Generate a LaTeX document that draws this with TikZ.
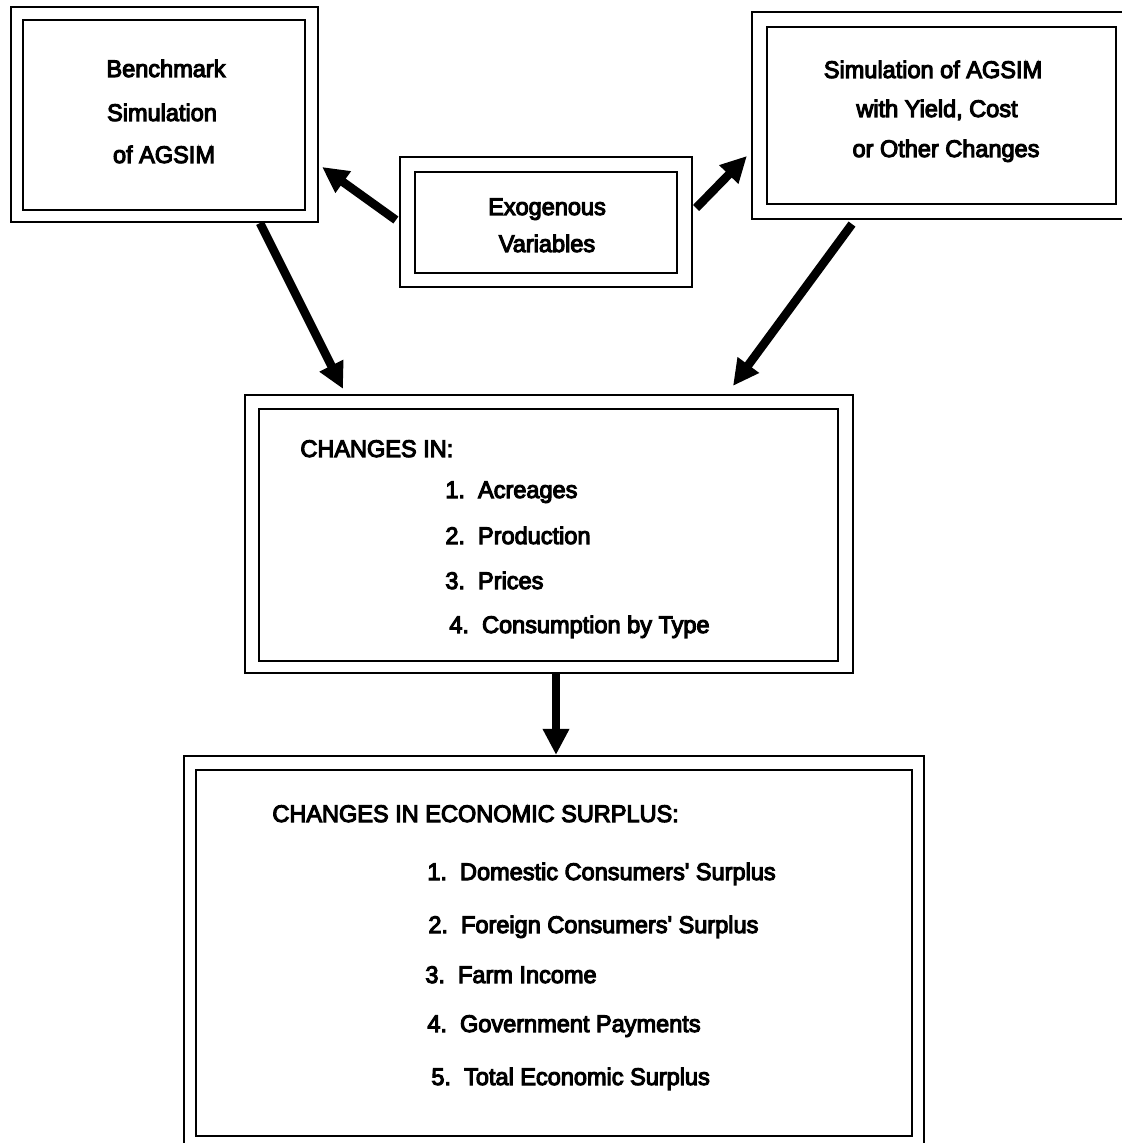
\documentclass[tikz,border=0pt]{standalone}
\usepackage{fontspec}
\newfontfamily\dfont{Liberation Sans}[FakeBold=4.5,FakeStretch=0.98]
\usetikzlibrary{arrows.meta}
\begin{document}
\begin{tikzpicture}[x=0.5pt,y=-0.5pt,
  box/.style={draw, line width=1.1pt, inner sep=0pt, anchor=center},
  arr/.style={line width=4.3pt, -{Triangle[length=13pt,width=12.5pt]}},
  txt/.style={font=\dfont\fontsize{12}{14}\selectfont, inner sep=0pt},
]
\useasboundingbox (0,0) rectangle (1121,1143);
\fill[white] (0,0) rectangle (1121,1143);
% boxes
\node[box, minimum width=153.5pt, minimum height=107.5pt] (A) at (164.5,114.5) {};
\node[box, minimum width=141pt, minimum height=95pt] (Ai) at (164,115) {};
\node[box, minimum width=146pt, minimum height=65pt] (B) at (546,222) {};
\node[box, minimum width=131pt, minimum height=50.5pt] (Bi) at (546,222.5) {};
\node[box, minimum width=186.5pt, minimum height=103.5pt] (C) at (938.5,115.5) {};
\node[box, minimum width=174.5pt, minimum height=88.5pt] (Ci) at (941.5,115.5) {};
\node[box, minimum width=304pt, minimum height=139pt] (D) at (549,534) {};
\node[box, minimum width=289.5pt, minimum height=126pt] (Di) at (548.5,535) {};
\node[box, minimum width=370pt, minimum height=197.5pt] (E) at (554,953.5) {};
\node[box, minimum width=358pt, minimum height=183pt] (Ei) at (554,953) {};
% texts
\node[txt, anchor=base] (a1) at (166,77) {Benchmark};
\node[txt, anchor=base] (a2) at (162,121) {Simulation};
\node[txt, anchor=base] (a3) at (164,163) {of AGSIM};
\node[txt, anchor=base] (c1) at (933,78) {Simulation of AGSIM};
\node[txt, anchor=base] (c2) at (937,117) {with Yield, Cost};
\node[txt, anchor=base] (c3) at (946,157) {or Other Changes};
\node[txt, anchor=base] (b1) at (547,215) {Exogenous};
\node[txt, anchor=base] (b2) at (547,252) {Variables};
\node[txt, anchor=base west] (d0) at (300,457) {CHANGES IN:};
\node[txt, anchor=base west] (d1) at (445,498) {1.\ \ Acreages};
\node[txt, anchor=base west] (d2) at (445,544) {2.\ \ Production};
\node[txt, anchor=base west] (d3) at (445,589) {3.\ \ Prices};
\node[txt, anchor=base west] (d4) at (449,633) {4.\ \ Consumption by Type};
\node[txt, anchor=base west] (e0) at (272,822) {CHANGES IN ECONOMIC SURPLUS:};
\node[txt, anchor=base west] (e1) at (427,880) {1.\ \ Domestic Consumers' Surplus};
\node[txt, anchor=base west] (e2) at (428,933) {2.\ \ Foreign Consumers' Surplus};
\node[txt, anchor=base west] (e3) at (425,983) {3.\ \ Farm Income};
\node[txt, anchor=base west] (e4) at (427,1032) {4.\ \ Government Payments};
\node[txt, anchor=base west] (e5) at (431,1085) {5.\ \ Total Economic Surplus};
% arrows
\draw[arr] ([xshift=47.75pt]A.south) -- ([xshift=-103pt,yshift=2.5pt]D.north);
\draw[arr] ([xshift=-43.25pt,yshift=-2pt]C.south) -- ([xshift=92pt,yshift=4pt]D.north);
\draw[arr] ([xshift=-1.5pt,yshift=1pt]B.west) -- ([xshift=1.5pt,yshift=-26.25pt]A.east);
\draw[arr] ([xshift=1.5pt,yshift=7pt]B.east) -- ([xshift=-2pt,yshift=-20.25pt]C.west);
\draw[arr] ([xshift=3.5pt]D.south) -- ([xshift=1pt]E.north);
\end{tikzpicture}
\end{document}
